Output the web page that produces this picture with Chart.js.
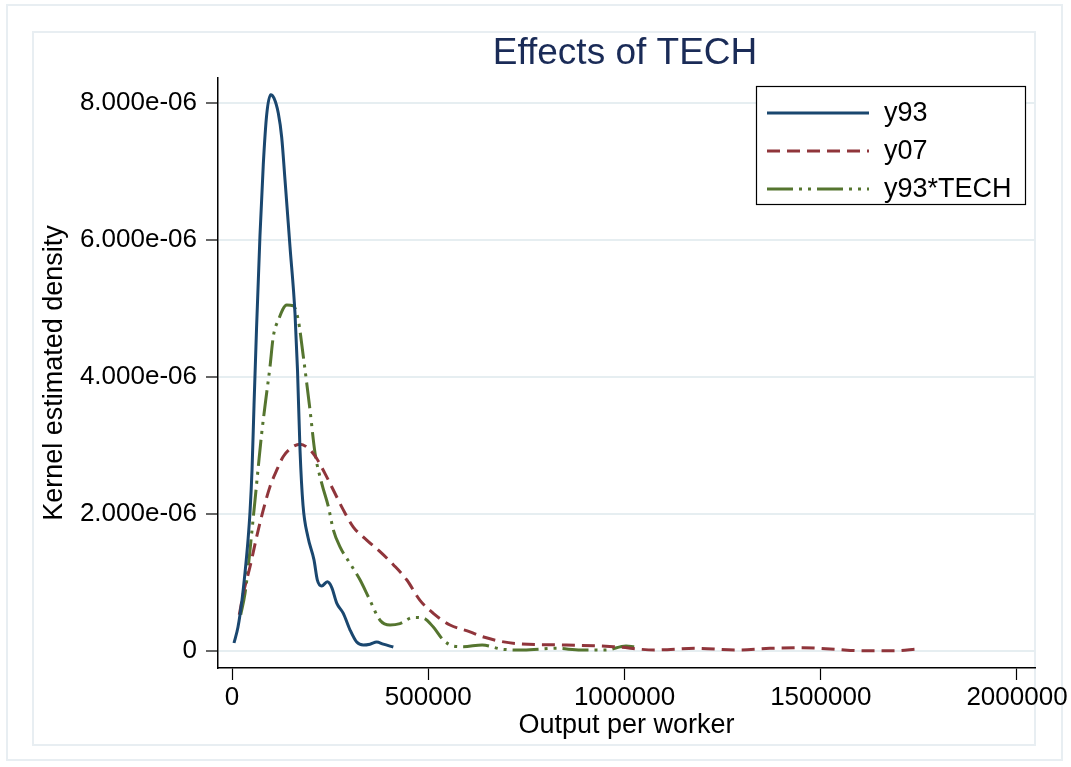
<!DOCTYPE html>
<html>
<head>
<meta charset="utf-8">
<title>Effects of TECH</title>
<script src="https://cdn.jsdelivr.net/npm/chart.js@4.4.1/dist/chart.umd.min.js"></script>
<style>
  html, body { margin: 0; padding: 0; background: #ffffff; }
  #wrap { width: 1071px; height: 767px; }
</style>
</head>
<body>
<div id="wrap"><canvas id="densityChart" width="1071" height="767"></canvas></div>
<script>
// === Kernel density: output per worker ===

// y93
const Y93_X = [5100, 15300, 25500, 33100, 40800, 45900, 51000, 56100, 62400, 71300, 79700, 88400, 98600, 107000, 118000, 126600, 135000, 147800, 160500, 166900, 173300, 180900, 193600, 208900, 217300, 228500, 242800, 254000, 266800, 283600, 300600, 317700, 334500, 351600, 368700, 385500, 411000];
const Y93_Y = [0.117, 0.35, 0.745, 1.14, 1.62, 2.03, 2.64, 3.59, 4.69, 6.07, 7.10, 7.83, 8.12, 8.07, 7.85, 7.50, 6.88, 5.90, 4.93, 4.10, 2.93, 2.13, 1.66, 1.33, 1.04, 0.95, 1.01, 0.93, 0.70, 0.55, 0.31, 0.13, 0.088, 0.10, 0.13, 0.10, 0.058];

// y07
const Y07_X = [18600, 28800, 45900, 62900, 79700, 96800, 113900, 130700, 152100, 173300, 194400, 215800, 237000, 258100, 283600, 309100, 343200, 377100, 411000, 445100, 479000, 512900, 555400, 606400, 637400, 721000, 846600, 972200, 1077000, 1181700, 1286400, 1370200, 1453800, 1537600, 1600300, 1684100, 1747000];
const Y07_Y = [0.53, 0.84, 1.23, 1.67, 2.06, 2.40, 2.64, 2.84, 2.97, 3.02, 2.96, 2.81, 2.59, 2.35, 2.06, 1.81, 1.62, 1.45, 1.26, 1.04, 0.74, 0.55, 0.38, 0.28, 0.21, 0.11, 0.088, 0.063, 0.015, 0.039, 0.015, 0.039, 0.048, 0.025, 0.004, 0.004, 0.029];

// y93*TECH
const TECH_X = [22200, 33100, 41500, 50200, 58600, 67000, 75700, 85900, 96800, 105200, 118000, 139400, 156200, 168900, 181700, 198700, 211500, 228500, 245400, 258100, 275200, 300600, 326100, 351600, 377100, 402600, 428000, 461900, 487400, 512900, 538400, 563800, 589300, 637400, 689700, 742200, 825800, 888600, 951400, 1003800, 1024700];
const TECH_Y = [0.53, 0.84, 1.23, 1.72, 2.20, 2.69, 3.18, 3.66, 4.15, 4.59, 4.83, 5.05, 5.04, 4.83, 4.30, 3.52, 2.89, 2.45, 2.11, 1.77, 1.52, 1.28, 1.04, 0.74, 0.45, 0.38, 0.40, 0.49, 0.48, 0.35, 0.16, 0.073, 0.063, 0.088, 0.025, 0.015, 0.039, 0.015, 0.015, 0.073, 0.063];

// density values above are in units of 1e-6
const Y_UNIT = 1e-6;

const X_TICKS = [0, 500000, 1000000, 1500000, 2000000];
const Y_TICKS = [0, 2e-6, 4e-6, 6e-6, 8e-6];

const FONT = "'Liberation Sans', Arial, Helvetica, sans-serif";
const GRID_COLOR = "#e6eef1";

// zip x / y arrays into {x, y} points
function toPoints(xs, ys) {
  return xs.map((x, i) => ({ x: x, y: ys[i] * Y_UNIT }));
}

// 8e-6 -> "8.000e-06"
function formatDensity(v) {
  if (Math.abs(v) < 1e-12) return "0";
  return v.toExponential(3).replace(/e([+-])(\d)$/, "e$10$2");
}

// frame, title and boxed legend
const decorPlugin = {
  id: "decor",
  beforeDraw(chart) {
    const ctx = chart.ctx;
    ctx.save();
    ctx.fillStyle = "#ffffff";
    ctx.fillRect(0, 0, chart.width, chart.height);
    ctx.strokeStyle = "#e8eef2";
    ctx.lineWidth = 2;
    ctx.strokeRect(7, 5, 1055, 755);
    ctx.strokeRect(33, 32, 1002, 713);
    ctx.restore();
  },
  afterDraw(chart) {
    const ctx = chart.ctx;
    ctx.save();

    // title
    ctx.fillStyle = "#1a2b57";
    ctx.font = "37px " + FONT;
    ctx.textAlign = "center";
    ctx.textBaseline = "alphabetic";
    ctx.fillText("Effects of TECH", 625, 64);

    // legend box
    const bx = 756, by = 86, bw = 269, bh = 118;
    ctx.fillStyle = "#ffffff";
    ctx.fillRect(bx, by, bw, bh);
    ctx.strokeStyle = "#000000";
    ctx.lineWidth = 1.2;
    ctx.strokeRect(bx + 0.5, by + 0.5, bw, bh);

    const rows = [113, 151, 189];
    chart.data.datasets.forEach((ds, i) => {
      const y = rows[i];
      ctx.strokeStyle = ds.borderColor;
      ctx.lineWidth = ds.borderWidth;
      ctx.setLineDash(ds.borderDash || []);
      ctx.beginPath();
      ctx.moveTo(767, y);
      ctx.lineTo(869, y);
      ctx.stroke();
      ctx.setLineDash([]);
      ctx.fillStyle = "#000000";
      ctx.font = "27px " + FONT;
      ctx.textAlign = "left";
      ctx.textBaseline = "middle";
      ctx.fillText(ds.label, 884, y + 1);
    });
    ctx.restore();
  }
};

function initChart() {
  const ctx = document.getElementById("densityChart").getContext("2d");
  Chart.defaults.font.family = FONT;

  return new Chart(ctx, {
    type: "line",
    data: {
      datasets: [
        {
          label: "y93",
          data: toPoints(Y93_X, Y93_Y),
          borderColor: "#1a476f",
          borderWidth: 3
        },
        {
          label: "y07",
          data: toPoints(Y07_X, Y07_Y),
          borderColor: "#90353b",
          borderWidth: 3,
          borderDash: [13, 7]
        },
        {
          label: "y93*TECH",
          data: toPoints(TECH_X, TECH_Y),
          borderColor: "#55752f",
          borderWidth: 3,
          borderDash: [26, 6, 3, 6, 3, 6]
        }
      ]
    },
    options: {
      responsive: false,
      animation: false,
      devicePixelRatio: 1,
      layout: { padding: { top: 78, right: 36, left: 0, bottom: 0 } },
      elements: {
        point: { radius: 0 },
        line: { cubicInterpolationMode: "monotone", fill: false }
      },
      plugins: {
        legend: { display: false },
        title: { display: false },
        tooltip: { enabled: false }
      },
      scales: {
        x: {
          type: "linear",
          min: -35669,
          max: 2045860,
          afterBuildTicks: (axis) => {
            axis.ticks = X_TICKS.map((v) => ({ value: v }));
          },
          afterFit: (scale) => {
            scale.height = 99;
          },
          ticks: {
            color: "#000000",
            font: { size: 26 },
            padding: 2,
            maxRotation: 0,
            autoSkip: false,
            callback: (v) => String(v)
          },
          grid: {
            drawOnChartArea: false,
            tickLength: 12,
            tickColor: "#000000",
            tickWidth: 1.2
          },
          border: { color: "#000000", width: 1.5 },
          title: {
            display: true,
            text: "Output per worker",
            color: "#000000",
            font: { size: 27 },
            padding: { top: 0, bottom: 25 }
          }
        },
        y: {
          type: "linear",
          min: -2.48e-7,
          max: 8.365e-6,
          afterBuildTicks: (axis) => {
            axis.ticks = Y_TICKS.map((v) => ({ value: v }));
          },
          afterFit: (scale) => {
            scale.width = 218;
          },
          ticks: {
            color: "#000000",
            font: { size: 26 },
            padding: 9,
            callback: (v) => formatDensity(v)
          },
          grid: {
            color: GRID_COLOR,
            lineWidth: 2,
            tickLength: 12,
            tickColor: "#000000",
            tickWidth: 1.2
          },
          border: { color: "#000000", width: 1.5 },
          title: {
            display: true,
            text: "Kernel estimated density",
            color: "#000000",
            font: { size: 27 },
            padding: { top: 38, bottom: 0 }
          }
        }
      }
    },
    plugins: [decorPlugin]
  });
}

document.addEventListener("DOMContentLoaded", () => {
  initChart();
});
</script>
</body>
</html>
